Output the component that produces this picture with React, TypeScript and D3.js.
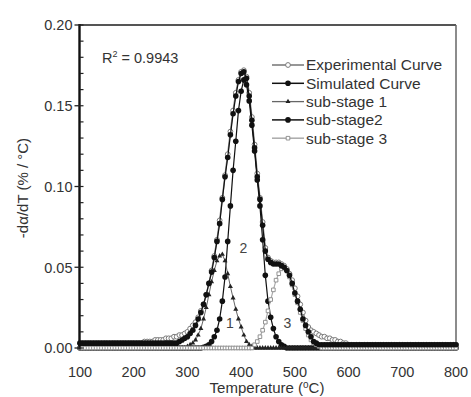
import React from 'react';
import * as d3 from 'd3';

// Temperature grid of the measurements (°C), every 5 °C from 100 to 800
const temperatures: number[] = d3.range(100, 801, 5);

// -dα/dT values (% / °C), one per temperature
const experimental: number[] = [
  // 100-195
  0.003, 0.003, 0.003, 0.003, 0.003, 0.003, 0.003, 0.003, 0.003, 0.003,
  0.003, 0.003, 0.003, 0.003, 0.003, 0.003, 0.003, 0.003, 0.003, 0.003,
  // 200-295
  0.003, 0.003, 0.003, 0.003, 0.004, 0.004, 0.004, 0.004, 0.005, 0.005,
  0.005, 0.005, 0.006, 0.006, 0.006, 0.007, 0.007, 0.008, 0.008, 0.009,
  // 300-395
  0.010, 0.012, 0.014, 0.016, 0.019, 0.023, 0.027, 0.033, 0.040, 0.048,
  0.057, 0.067, 0.079, 0.093, 0.107, 0.120, 0.134, 0.147, 0.158, 0.166,
  // 400-495
  0.171, 0.172, 0.168, 0.158, 0.143, 0.126, 0.108, 0.093, 0.078, 0.062,
  0.056, 0.054, 0.053, 0.053, 0.053, 0.052, 0.051, 0.049, 0.046, 0.042,
  // 500-595
  0.037, 0.032, 0.027, 0.022, 0.017, 0.013, 0.011, 0.010, 0.009, 0.008,
  0.007, 0.007, 0.006, 0.006, 0.005, 0.005, 0.004, 0.004, 0.003, 0.003,
  // 600-695
  0.002, 0.002, 0.002, 0.002, 0.002, 0.002, 0.002, 0.002, 0.002, 0.002,
  0.002, 0.002, 0.002, 0.002, 0.002, 0.002, 0.002, 0.002, 0.002, 0.002,
  // 700-800
  0.002, 0.002, 0.002, 0.002, 0.002, 0.002, 0.002, 0.002, 0.002, 0.002,
  0.002, 0.002, 0.002, 0.002, 0.002, 0.002, 0.002, 0.002, 0.002, 0.002,
  0.002,
];

const simulated: number[] = [
  // 100-195
  0.003, 0.003, 0.003, 0.003, 0.003, 0.003, 0.003, 0.003, 0.003, 0.003,
  0.003, 0.003, 0.003, 0.003, 0.003, 0.003, 0.003, 0.003, 0.003, 0.003,
  // 200-295
  0.003, 0.003, 0.003, 0.003, 0.003, 0.003, 0.003, 0.003, 0.003, 0.003,
  0.003, 0.003, 0.003, 0.003, 0.003, 0.003, 0.003, 0.004, 0.005, 0.006,
  // 300-395
  0.007, 0.009, 0.011, 0.014, 0.018, 0.022, 0.027, 0.033, 0.040, 0.047,
  0.056, 0.066, 0.077, 0.092, 0.106, 0.118, 0.132, 0.145, 0.156, 0.165,
  // 400-495
  0.170, 0.171, 0.167, 0.156, 0.141, 0.124, 0.106, 0.092, 0.076, 0.060,
  0.055, 0.053, 0.052, 0.052, 0.052, 0.051, 0.050, 0.048, 0.045, 0.040,
  // 500-595
  0.034, 0.029, 0.024, 0.018, 0.014, 0.010, 0.007, 0.004, 0.003, 0.002,
  0.002, 0.002, 0.002, 0.002, 0.002, 0.002, 0.002, 0.002, 0.002, 0.002,
  // 600-695
  0.002, 0.002, 0.002, 0.002, 0.002, 0.002, 0.002, 0.002, 0.002, 0.002,
  0.002, 0.002, 0.002, 0.002, 0.002, 0.002, 0.002, 0.002, 0.002, 0.002,
  // 700-800
  0.002, 0.002, 0.002, 0.002, 0.002, 0.002, 0.002, 0.002, 0.002, 0.002,
  0.002, 0.002, 0.002, 0.002, 0.002, 0.002, 0.002, 0.002, 0.002, 0.002,
  0.002,
];

const subStage1: number[] = [
  // 100-295
  0, 0, 0, 0, 0, 0, 0, 0, 0, 0, 0, 0, 0, 0, 0, 0, 0, 0, 0, 0,
  0, 0, 0, 0, 0, 0, 0, 0, 0, 0, 0, 0, 0, 0, 0, 0, 0, 0, 0, 0,
  // 300-395
  0.001, 0.002, 0.003, 0.005, 0.008, 0.012, 0.018, 0.025, 0.033, 0.041,
  0.048, 0.054, 0.057, 0.058, 0.054, 0.046, 0.038, 0.031, 0.024, 0.018,
  // 400-495
  0.013, 0.008, 0.004, 0.002, 0.001, 0, 0, 0, 0, 0,
  0, 0, 0, 0, 0, 0, 0, 0, 0, 0,
  // 500-695
  0, 0, 0, 0, 0, 0, 0, 0, 0, 0, 0, 0, 0, 0, 0, 0, 0, 0, 0, 0,
  0, 0, 0, 0, 0, 0, 0, 0, 0, 0, 0, 0, 0, 0, 0, 0, 0, 0, 0, 0,
  // 700-800
  0, 0, 0, 0, 0, 0, 0, 0, 0, 0, 0, 0, 0, 0, 0, 0, 0, 0, 0, 0, 0,
];

const subStage2: number[] = [
  // 100-295
  0, 0, 0, 0, 0, 0, 0, 0, 0, 0, 0, 0, 0, 0, 0, 0, 0, 0, 0, 0,
  0, 0, 0, 0, 0, 0, 0, 0, 0, 0, 0, 0, 0, 0, 0, 0, 0, 0, 0, 0,
  // 300-395
  0, 0, 0, 0, 0, 0, 0.0005, 0.001, 0.002, 0.004,
  0.007, 0.011, 0.018, 0.029, 0.044, 0.066, 0.088, 0.110, 0.128, 0.147,
  // 400-495
  0.159, 0.166, 0.163, 0.153, 0.138, 0.122, 0.104, 0.088, 0.067, 0.045,
  0.029, 0.019, 0.012, 0.007, 0.004, 0.002, 0.001, 0, 0, 0,
  // 500-695
  0, 0, 0, 0, 0, 0, 0, 0, 0, 0, 0, 0, 0, 0, 0, 0, 0, 0, 0, 0,
  0, 0, 0, 0, 0, 0, 0, 0, 0, 0, 0, 0, 0, 0, 0, 0, 0, 0, 0, 0,
  // 700-800
  0, 0, 0, 0, 0, 0, 0, 0, 0, 0, 0, 0, 0, 0, 0, 0, 0, 0, 0, 0, 0,
];

const subStage3: number[] = [
  // 100-295
  0, 0, 0, 0, 0, 0, 0, 0, 0, 0, 0, 0, 0, 0, 0, 0, 0, 0, 0, 0,
  0, 0, 0, 0, 0, 0, 0, 0, 0, 0, 0, 0, 0, 0, 0, 0, 0, 0, 0, 0,
  // 300-395
  0, 0, 0, 0, 0, 0, 0, 0, 0, 0, 0, 0, 0, 0, 0, 0, 0, 0, 0, 0,
  // 400-495
  0, 0, 0, 0, 0, 0.002, 0.004, 0.007, 0.011, 0.016,
  0.023, 0.030, 0.036, 0.042, 0.046, 0.049, 0.050, 0.048, 0.044, 0.039,
  // 500-595
  0.033, 0.028, 0.022, 0.017, 0.012, 0.008, 0.005, 0.003, 0.002, 0.001,
  0, 0, 0, 0, 0, 0, 0, 0, 0, 0,
  // 600-695
  0, 0, 0, 0, 0, 0, 0, 0, 0, 0, 0, 0, 0, 0, 0, 0, 0, 0, 0, 0,
  // 700-800
  0, 0, 0, 0, 0, 0, 0, 0, 0, 0, 0, 0, 0, 0, 0, 0, 0, 0, 0, 0, 0,
];

const legendLabels = ['Experimental Curve', 'Simulated Curve', 'sub-stage 1', 'sub-stage2', 'sub-stage 3'];
const xTicks = [100, 200, 300, 400, 500, 600, 700, 800];
const yTicks = [0, 0.05, 0.1, 0.15, 0.2];
const yMinorTicks = d3.range(0, 0.2001, 0.01);
const stageLabels = [
  { text: '1', t: 379, v: 0.0125 },
  { text: '2', t: 404, v: 0.059 },
  { text: '3', t: 486, v: 0.0125 },
];

const W = 471;
const H = 397;
const FONT = "'Liberation Sans', Arial, sans-serif";

type MarkerKind = 'openCircle' | 'filledCircle' | 'smallTriangle' | 'openSquare';

function Marker({ kind, cx, cy }: { kind: MarkerKind; cx: number; cy: number }) {
  if (kind === 'openCircle')
    return <circle cx={cx} cy={cy} r={2.4} fill="#fff" stroke="#7a7a7a" strokeWidth={1} />;
  if (kind === 'filledCircle')
    return <circle cx={cx} cy={cy} r={2.8} fill="#111" />;
  if (kind === 'smallTriangle') {
    const d = d3.symbol(d3.symbolTriangle, 11)() || '';
    return <path d={d} transform={`translate(${cx},${cy})`} fill="#222" />;
  }
  const d = d3.symbol(d3.symbolSquare, 13)() || '';
  return <path d={d} transform={`translate(${cx},${cy})`} fill="#fff" stroke="#888" strokeWidth={0.9} />;
}

export default function App() {
  const x = d3.scaleLinear().domain([100, 800]).range([80, 456]);
  const y = d3.scaleLinear().domain([0, 0.2]).range([348, 25]);

  const series = [
    { key: 'exp', values: experimental, stroke: '#8c8c8c', width: 1.5, marker: 'openCircle' as MarkerKind },
    { key: 'sim', values: simulated, stroke: '#111', width: 1.2, marker: 'filledCircle' as MarkerKind },
    { key: 's1', values: subStage1, stroke: '#666', width: 1, marker: 'smallTriangle' as MarkerKind },
    { key: 's2', values: subStage2, stroke: '#111', width: 1.2, marker: 'filledCircle' as MarkerKind },
    { key: 's3', values: subStage3, stroke: '#aaa', width: 1.2, marker: 'openSquare' as MarkerKind },
  ];
  // drawing order: experimental, sub-stage2, sub-stage 1, sub-stage 3, simulated
  const drawOrder = ['exp', 's2', 's1', 's3', 'sim'];

  const line = d3
    .line<number>()
    .x((_, i) => x(temperatures[i]))
    .y((v) => y(v));

  const legendX0 = 272;
  const legendX1 = 304;
  const legendY0 = 65;
  const legendDy = 18.3;

  return (
    <svg width={W} height={H} style={{ position: 'absolute', left: 0, top: 0, background: '#fff' }} fontFamily={FONT}>
      <rect x={0} y={0} width={W} height={H} fill="#fff" />
      {/* frame */}
      <line x1={x(100)} x2={x(800)} y1={y(0.2)} y2={y(0.2)} stroke="#555" strokeWidth={2} />
      <line x1={x(800)} x2={x(800)} y1={y(0.2)} y2={y(0)} stroke="#666" strokeWidth={1.5} />
      <line x1={x(100)} x2={x(800)} y1={y(0) + 1} y2={y(0) + 1} stroke="#333" strokeWidth={1.2} />

      {/* series */}
      {drawOrder.map((k) => {
        const s = series.find((d) => d.key === k)!;
        return (
          <g key={k}>
            <path d={line(s.values) || ''} fill="none" stroke={s.stroke} strokeWidth={s.width} />
            {s.values.map((v, i) => (
              <Marker key={i} kind={s.marker} cx={x(temperatures[i])} cy={y(v)} />
            ))}
          </g>
        );
      })}

      {/* left axis */}
      <line x1={x(100) - 0.5} x2={x(100) - 0.5} y1={y(0.2) - 1} y2={y(0) + 1.5} stroke="#111" strokeWidth={2.4} />
      {yMinorTicks.map((t, i) => (
        <line key={'m' + i} x1={x(100)} x2={x(100) + 3.5} y1={y(t)} y2={y(t)} stroke="#222" strokeWidth={1.2} />
      ))}
      {yTicks.map((t) => (
        <g key={'y' + t}>
          <line x1={x(100) - 5.5} x2={x(100)} y1={y(t)} y2={y(t)} stroke="#222" strokeWidth={1.3} />
          <text x={72.5} y={y(t) + 5.3} textAnchor="end" fontSize={14.5} fill="#333">
            {d3.format('.2f')(t)}
          </text>
        </g>
      ))}

      {/* x tick labels */}
      {xTicks.map((t) => (
        <text key={'x' + t} x={x(t)} y={377} textAnchor="middle" fontSize={14.5} fill="#333">
          {t}
        </text>
      ))}

      {/* axis titles */}
      <text x={267} y={393} textAnchor="middle" fontSize={15} fill="#333">
        Temperature (<tspan fontSize={10} dy={-5}>o</tspan>
        <tspan dy={5}>C)</tspan>
      </text>
      <text transform="translate(28,188) rotate(-90)" textAnchor="middle" fontSize={15} fill="#333">
        -dα/dT (% / °C)
      </text>

      {/* R² */}
      <text x={102} y={63} fontSize={14.5} fill="#333">
        R<tspan fontSize={9} dy={-6}>2</tspan>
        <tspan dy={6}> = 0.9943</tspan>
      </text>

      {/* stage labels */}
      {stageLabels.map((l) => (
        <text key={l.text} x={x(l.t)} y={y(l.v)} textAnchor="middle" fontSize={14} fill="#444">
          {l.text}
        </text>
      ))}

      {/* legend */}
      {legendLabels.map((lab, i) => {
        const s = series[i];
        const cy = legendY0 + i * legendDy;
        return (
          <g key={lab}>
            <line x1={legendX0} x2={legendX1} y1={cy} y2={cy} stroke={s.stroke} strokeWidth={s.width + 0.3} />
            <Marker kind={s.marker} cx={(legendX0 + legendX1) / 2} cy={cy} />
            <text x={306} y={cy + 5.3} fontSize={15.5} fill="#333">
              {lab}
            </text>
          </g>
        );
      })}
    </svg>
  );
}
